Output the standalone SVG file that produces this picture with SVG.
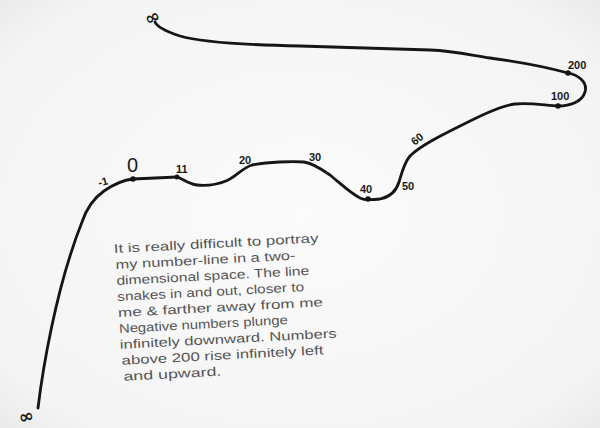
<svg xmlns="http://www.w3.org/2000/svg" width="600" height="428" viewBox="0 0 600 428">
  <style>
    .line { fill: none; stroke: #151515; stroke-width: 2.8; stroke-linecap: round; stroke-linejoin: round; }
    .dot { fill: #151515; }
    .num { font-family: "Liberation Sans", Arial, sans-serif; font-weight: bold; font-size: 11px; fill: #1a1a1a; }
    .inf { font-family: "DejaVu Sans", sans-serif; font-weight: bold; font-size: 18px; fill: #1a1a1a; }
    .note { font-family: "Liberation Sans", Arial, sans-serif; font-size: 12.5px; fill: #555555; }
  </style>
  <defs>
    <radialGradient id="paper" cx="50%" cy="50%" r="75%">
      <stop offset="0" stop-color="#fbfbfb"/>
      <stop offset="0.8" stop-color="#f4f4f4"/>
      <stop offset="1" stop-color="#e6e6e6"/>
    </radialGradient>
  </defs>
  <rect x="0" y="0" width="600" height="428" fill="url(#paper)"/>

  <g id="connectors">
    <path class="line" d="M38,408 C42,375 55,290 82,222 C86,210 94,198 104,191 C114,184 124,180 133,179 L177,177 C182,178 188,184 197,185 C206,186 216,185 226,181 C236,177 242,168 252,165 C268,162 292,161 304,162 C312,163 320,168 330,175 C340,183 350,193 360,198 C364,200 372,200 380,199 C390,197 396,192 399,182 C402,172 404,163 410,156 C420,146 440,136 460,126 C480,116 500,106 515,104 C530,102 548,106 558,106 C570,106 582,102 585,92 C588,82 578,75 568,73 C550,68 520,62 490,58 C470,55 455,51 430,50 C400,49 360,48 300,46 C250,45 200,42 180,36 C165,31 157,27 155,22"/>
  </g>

  <g id="node-inf-bottom"><text class="inf" x="26" y="416" text-anchor="middle" dominant-baseline="central" transform="rotate(-15 26 416)">∞</text></g>
  <g id="node-minus1"><text class="num" x="98" y="185" transform="rotate(-15 105 181)">-1</text></g>
  <g id="node-0">
    <circle class="dot" cx="133" cy="179" r="2.8"/>
    <text x="127" y="172" font-family="Liberation Sans, Arial, sans-serif" font-size="20" fill="#1a1a1a">0</text>
  </g>
  <g id="node-11">
    <circle class="dot" cx="177" cy="177" r="2.5"/>
    <text class="num" x="176" y="173" font-size="10">11</text>
  </g>
  <g id="node-20"><text class="num" x="239" y="164">20</text></g>
  <g id="node-30"><text class="num" x="309" y="161">30</text></g>
  <g id="node-40">
    <circle class="dot" cx="368" cy="199" r="2.8"/>
    <text class="num" x="360" y="193">40</text>
  </g>
  <g id="node-50"><text class="num" x="402" y="190">50</text></g>
  <g id="node-60"><text class="num" x="410" y="142" transform="rotate(-38 418 137)">60</text></g>
  <g id="node-100">
    <circle class="dot" cx="558" cy="106" r="2.8"/>
    <text class="num" x="551" y="100" font-size="10">100</text>
  </g>
  <g id="node-200">
    <circle class="dot" cx="568" cy="73" r="2.8"/>
    <text class="num" x="568" y="69" font-size="10">200</text>
  </g>
  <g id="node-inf-top"><text class="inf" x="152" y="17" text-anchor="middle" dominant-baseline="central" transform="rotate(-25 152 17)">∞</text></g>

  <g id="note" transform="rotate(-3 115 253)">
    <text class="note" x="114" y="253" textLength="205" lengthAdjust="spacingAndGlyphs">It is really difficult to portray</text>
    <text class="note" x="115" y="269" textLength="180" lengthAdjust="spacingAndGlyphs">my number-line in a two-</text>
    <text class="note" x="115" y="285" textLength="193" lengthAdjust="spacingAndGlyphs">dimensional space. The line</text>
    <text class="note" x="115" y="301" textLength="187" lengthAdjust="spacingAndGlyphs">snakes in and out, closer to</text>
    <text class="note" x="115" y="317" textLength="205" lengthAdjust="spacingAndGlyphs">me &amp; farther away from me</text>
    <text class="note" x="115" y="333" textLength="169" lengthAdjust="spacingAndGlyphs">Negative numbers plunge</text>
    <text class="note" x="115" y="349" textLength="217" lengthAdjust="spacingAndGlyphs">infinitely downward. Numbers</text>
    <text class="note" x="116" y="365" textLength="202" lengthAdjust="spacingAndGlyphs">above 200 rise infinitely left</text>
    <text class="note" x="117" y="381" textLength="98" lengthAdjust="spacingAndGlyphs">and upward.</text>
  </g>
</svg>
